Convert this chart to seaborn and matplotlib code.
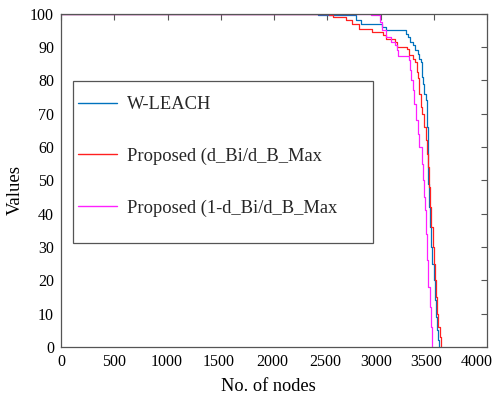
import matplotlib
matplotlib.use("Agg")
import matplotlib.pyplot as plt
import matplotlib.transforms as mtransforms
import seaborn as sns
import pandas as pd
from matplotlib.patches import Rectangle

# ---------------- data ----------------
series_names = ["W-LEACH", "Proposed (d_Bi/d_B_Max", "Proposed (1-d_Bi/d_B_Max"]

wleach_x = [0, 2410, 2770, 2820, 3010, 3050, 3240, 3262, 3277, 3308, 3324, 3355, 3365,
            3377, 3387, 3402, 3408, 3427, 3434, 3440, 3443, 3446, 3450, 3458, 3466,
            3474, 3484, 3498, 3510, 3522, 3534, 3542, 3548]
wleach_y = [100, 99.5, 98, 97, 96, 95, 94, 93, 91.5, 90.5, 89, 88, 86.5,
            85.5, 81, 79, 76, 74, 70, 66, 60, 55, 49, 42, 36,
            30, 25, 20, 14, 9, 5, 2, 0]

prop1_x = [0, 2515, 2555, 2680, 2730, 2800, 2915, 3020, 3050, 3136, 3152, 3246, 3270,
           3300, 3324, 3340, 3355, 3365, 3377, 3387, 3408, 3425, 3440, 3446, 3455,
           3465, 3477, 3488, 3498, 3508, 3518, 3530, 3542, 3554, 3565]
prop1_y = [100, 99.5, 99, 98, 97, 95.3, 94.4, 93.6, 92.3, 91.5, 90, 89.3, 87.6,
           86.5, 85.5, 82.5, 80.6, 76, 72, 70, 66, 62, 58, 54, 48,
           42, 36, 30, 25, 20, 15, 10, 6, 3, 0]

prop2_x = [0, 2910, 2995, 3010, 3050, 3100, 3135, 3150, 3165, 3270, 3277, 3290, 3300,
           3315, 3335, 3350, 3365, 3387, 3400, 3412, 3420, 3430, 3440, 3450, 3460,
           3470, 3480]
prop2_y = [100, 99.5, 97.5, 95, 93, 91.5, 90.5, 89, 87.2, 86, 83, 80, 77,
           73, 68, 64, 60, 55, 50, 45, 41, 34, 26, 18, 12,
           6, 0]

x_ticks = [0, 500, 1000, 1500, 2000, 2500, 3000, 3500, 4000]
y_ticks = [0, 10, 20, 30, 40, 50, 60, 70, 80, 90, 100]

colors = ["#0072BD", "#FF2020", "#FF20FF"]

# ---------------- build long table ----------------
frames = []
for name, xs, ys in zip(series_names, [wleach_x, prop1_x, prop2_x], [wleach_y, prop1_y, prop2_y]):
    frames.append(pd.DataFrame({"nodes": xs, "value": ys, "series": name}))
df = pd.concat(frames, ignore_index=True)

# ---------------- style ----------------
sns.set_theme(style="white")
plt.rcParams['font.family'] = ['Liberation Serif', 'DejaVu Serif']

fig = plt.figure(figsize=(4.96, 3.98), dpi=100)
ax = fig.add_axes([0.123, 0.128, 0.859, 0.838])

sns.lineplot(data=df, x="nodes", y="value", hue="series", hue_order=series_names,
             palette=dict(zip(series_names, colors)), drawstyle="steps-post",
             estimator=None, sort=False, linewidth=0.9, ax=ax, legend=True)

ax.set_xlim(0, 4000)
ax.set_ylim(0, 100)
ax.set_xticks(x_ticks)
ax.set_yticks(y_ticks)
ax.set_xticklabels([str(t) for t in x_ticks])
ax.set_yticklabels([str(t) for t in y_ticks])
ax.tick_params(axis="both", direction="in", length=4, width=0.8, colors="#555555",
               labelcolor="black", labelsize=11.5, pad=5,
               top=True, right=True)
for s in ax.spines.values():
    s.set_color("#555555")
    s.set_linewidth(0.9)
    s.set_visible(True)

# nudge x tick labels as in the reference export
shifts = [0, 0, -1, -2, -2, -2, -4, -8, -10]
for lab, dx in zip(ax.get_xticklabels(), shifts):
    lab.set_transform(lab.get_transform() +
                      mtransforms.ScaledTranslation(dx / 100, 0, fig.dpi_scale_trans))

ax.set_xlabel("No. of nodes", fontsize=13.2, color="black")
ax.set_ylabel("Values", fontsize=13.5, color="black")
ax.xaxis.label.set_va("center")
ax.yaxis.label.set_va("center")
ax.xaxis.set_label_coords(0.486, -0.118)
ax.yaxis.set_label_coords(-0.108, 0.471)

# legend box (MATLAB-like, with asymmetric padding)
ax.add_patch(Rectangle((0.028, 0.312), 0.704, 0.486, transform=ax.transAxes,
                       facecolor="white", edgecolor="#555555", linewidth=0.9, zorder=3))
handles, labels = ax.get_legend_handles_labels()
leg = ax.legend(handles, labels, loc="upper left", bbox_to_anchor=(0.040, 0.752),
                frameon=False, fontsize=13.3, handlelength=2.1, handletextpad=0.55,
                labelspacing=1.86, borderpad=0, borderaxespad=0)
leg.set_zorder(4)
for line in leg.get_lines():
    line.set_linewidth(1.0)

fig.savefig("out.png", dpi=100)
